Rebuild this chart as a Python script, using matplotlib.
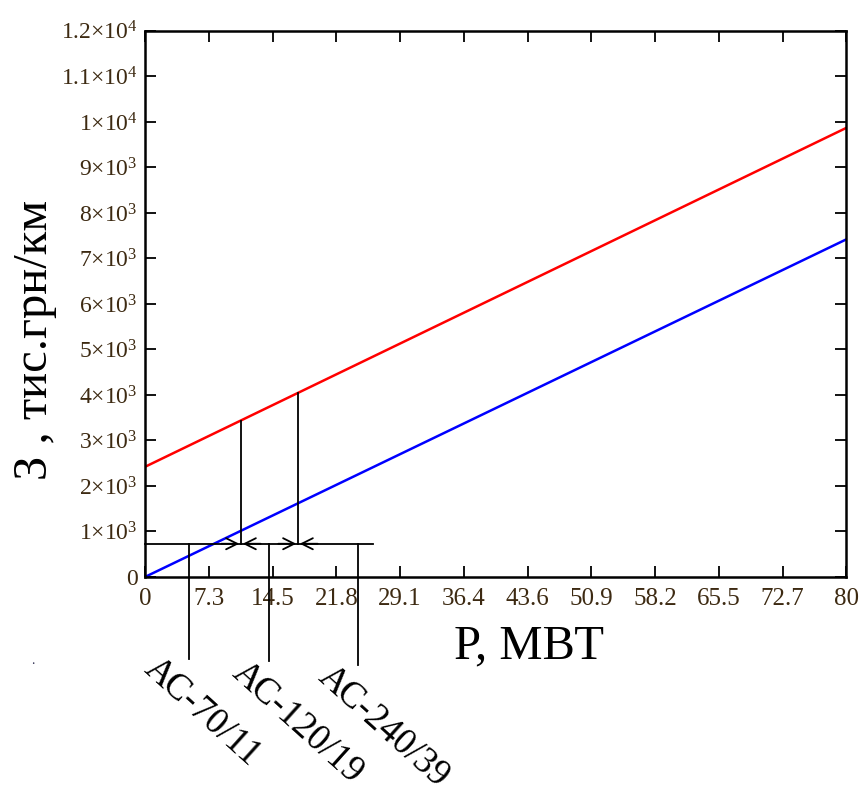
"""
Питомі витрати З (тис.грн/км) від потужності P (МВт) для двох марок проводів,
з границями економічних інтервалів АС-70/11, АС-120/19, АС-240/39.
"""

import matplotlib
matplotlib.use("Agg")
import matplotlib.pyplot as plt

# ── Data ────────────────────────────────────────────────────────────────
P_LINE    = [0, 80]
Z_RED     = [2420, 9870]
Z_BLUE    = [0, 7420]

X_TICKS   = [0, 7.27, 14.55, 21.82, 29.09, 36.36, 43.64, 50.91, 58.18, 65.45, 72.73, 80]
X_LABELS  = ["0", "7.3", "14.5", "21.8", "29.1", "36.4", "43.6", "50.9",
             "58.2", "65.5", "72.7", "80"]
Y_TICKS   = [0, 1000, 2000, 3000, 4000, 5000, 6000, 7000, 8000, 9000,
             10000, 11000, 12000]
Y_LABELS  = ["0", "1", "2", "3", "4", "5", "6", "7", "8", "9", "1", "1.1", "1.2"]
Y_EXP     = [0, 3, 3, 3, 3, 3, 3, 3, 3, 3, 4, 4, 4]

# boundaries (where the red and blue lines apply) and the cable markers
P_BOUND   = [10.9, 17.4]
Z_BOUND   = [3435, 4040]
Z_HLINE   = 730
P_HLINE   = [0, 26.0]
P_CABLE   = [5.0, 14.1, 24.3]
Z_CABLE_B = [-1800, -1850, -1930]
CABLES    = ["АС-70/11", "АС-120/19", "АС-240/39"]

plt.rcParams["font.family"] = ["Liberation Serif", "DejaVu Serif"]
plt.rcParams["mathtext.fontset"] = "stix"

TICK_C = "#3d2a12"

fig = plt.figure(figsize=(8.66, 7.92), dpi=100)
ax = fig.add_axes([0.1674, 0.2715, 0.8100, 0.6895])

ax.plot(P_LINE, Z_RED, color="red", lw=1.8)
ax.plot(P_LINE, Z_BLUE, color="blue", lw=1.8)

# ── boundary markers ────────────────────────────────────────────────────
for p, z in zip(P_BOUND, Z_BOUND):
    ax.plot([p, p], [Z_HLINE, z], color="black", lw=1.3)
ax.plot(P_HLINE, [Z_HLINE, Z_HLINE], color="black", lw=1.3, clip_on=False)
for p, zb in zip(P_CABLE, Z_CABLE_B):
    ax.plot([p, p], [Z_HLINE, zb], color="black", lw=1.3, clip_on=False)

arrow = dict(arrowstyle="->,head_length=0.8,head_width=0.4", lw=1.3, color="black",
             shrinkA=0, shrinkB=0)
for p in P_BOUND:
    ax.annotate("", xy=(p - 0.15, Z_HLINE), xytext=(p - 2.2, Z_HLINE), arrowprops=arrow)
    ax.annotate("", xy=(p + 0.25, Z_HLINE), xytext=(p + 2.3, Z_HLINE), arrowprops=arrow)

# ── axes styling (Mathcad look) ─────────────────────────────────────────
ax.set_xlim(0, 80)
ax.set_ylim(0, 12000)
ax.set_xticks(X_TICKS)
ax.set_xticklabels(X_LABELS, fontsize=18, color=TICK_C)
ax.set_yticks(Y_TICKS)
ylabs = []
for m, e in zip(Y_LABELS, Y_EXP):
    ylabs.append("0" if e == 0 else r"$\mathregular{%s{\times}10^{%d}}$" % (m, e))
ax.set_yticklabels(ylabs, fontsize=17, color=TICK_C)
ax.tick_params(direction="in", length=8, width=1.3, top=True, right=True,
               labeltop=False, labelright=False, pad=5)
ax.tick_params(axis="x", pad=8)
for s in ax.spines.values():
    s.set_linewidth(1.8)

fig.text(0.611, 0.184, "Р, МВТ", fontsize=35, ha="center", va="center")
fig.text(0.040, 0.571, "З , тис.грн/км", rotation=90, fontsize=35,
         ha="center", va="center")

# cable labels, rotated downwards
for txt, (x, y) in zip(CABLES, [(0.233, 0.101), (0.344, 0.087), (0.443, 0.083)]):
    fig.text(x, y, txt, rotation=-42, fontsize=26.5, ha="center", va="center",
             rotation_mode="anchor")

fig.text(0.038, 0.162, ".", fontsize=10, color="#333355", ha="center")

fig.savefig("out.png", dpi=100)
